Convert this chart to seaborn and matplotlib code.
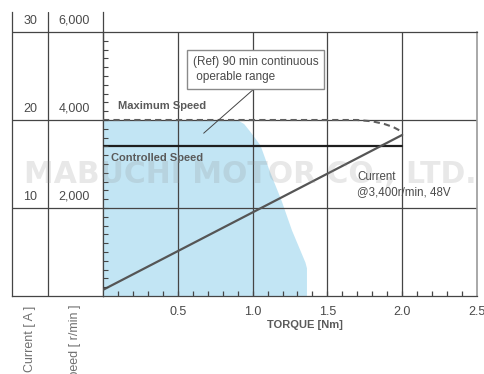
import numpy as np
import pandas as pd
import matplotlib
matplotlib.use("Agg")
import matplotlib.pyplot as plt
import seaborn as sns

# left scale labels
current_ticks = [10, 20, 30]
speed_ticks = [2000, 4000, 6000]
torque_ticks = [0.5, 1.0, 1.5, 2.0, 2.5]

# 90 min continuous operable range (torque Nm, speed r/min)
range_torque = [0.0, 0.90, 0.94, 0.98, 1.05, 1.11, 1.19, 1.26, 1.35, 1.36, 1.36]
range_speed = [4000, 4000, 3920, 3750, 3430, 2860, 2180, 1500, 770, 640, 0]

# maximum speed curve
max_torque = [0.0, 1.70, 1.80, 1.88, 1.94, 2.0]
max_speed = [4000, 4000, 3970, 3910, 3840, 3730]

# controlled speed
ctrl_torque = [0.0, 2.0]
ctrl_speed = [3400, 3400]

# current @3,400 r/min, 48V
cur_torque = [0.0, 2.0]
cur_amps = [0.7, 18.3]

SPEED_PER_AMP = speed_ticks[-1] / current_ticks[-1]

sns.set_theme(style="white")
plt.rcParams["font.family"] = ["Liberation Sans", "DejaVu Sans"]

W, H = 485, 374
fig = plt.figure(figsize=(W / 100, H / 100), dpi=100)
fig.patch.set_facecolor("white")

grid_c = "#454545"
text_c = "#4a4a4a"

# left label columns
axl = fig.add_axes([12 / W, (H - 296) / H, 91 / W, 284 / H])
axl.set_xlim(0, 1)
axl.set_ylim(0, 284 / 8.8)
for s in ["left", "right", "bottom"]:
    axl.spines[s].set_color(grid_c)
    axl.spines[s].set_linewidth(0.9)
axl.spines["top"].set_visible(False)
axl.set_xticks([])
axl.set_yticks([])
axl.set_facecolor("none")
axl.axvline(0.396, color=grid_c, lw=0.9)
for c, s in zip(current_ticks, speed_ticks):
    axl.axhline(c, color=grid_c, lw=0.9)
    axl.text(0.198, c + 1.3, f"{c}", ha="center", va="center", fontsize=9, color=text_c)
    axl.text(0.68, c + 1.3, f"{s:,}", ha="center", va="center", fontsize=9, color=text_c)

# main chart
ax = fig.add_axes([103 / W, (H - 296) / H, 374 / W, 264 / H])
ax.set_facecolor("none")

ax.fill_between(range_torque, np.array(range_speed) / SPEED_PER_AMP, 0,
                color="#c2e5f4", lw=0, zorder=1)

for t in torque_ticks[:-1]:
    ax.axvline(t, color=grid_c, lw=0.9, zorder=2)
for c in current_ticks[:-1]:
    ax.axhline(c, color=grid_c, lw=0.9, zorder=2)

sns.lineplot(x=max_torque, y=np.array(max_speed) / SPEED_PER_AMP, ax=ax,
             color="#5e5e5e", linewidth=1.5, linestyle=(0, (3, 2)), zorder=3)
sns.lineplot(x=ctrl_torque, y=np.array(ctrl_speed) / SPEED_PER_AMP, ax=ax,
             color="#1e1e1e", linewidth=1.6, zorder=4)
sns.lineplot(x=cur_torque, y=cur_amps, ax=ax,
             color="#555555", linewidth=1.6, zorder=4)

ax.set_xlim(0, 2.5)
ax.set_ylim(0, 30)

# small inward ticks along the left and bottom edges
x_minor = np.arange(1, 25) / 10
y_minor = np.arange(1, 30)
ax.vlines(x_minor, 0, 0.55, color=grid_c, lw=0.9, zorder=6)
ax.hlines(y_minor, 0, 0.034, color=grid_c, lw=0.8, zorder=6)

for s in ["left", "bottom", "top"]:
    ax.spines[s].set_color(grid_c)
    ax.spines[s].set_linewidth(0.9)
ax.spines["right"].set_color("#9a9a9a")
ax.spines["right"].set_linewidth(1.2)

ax.set_xticks(torque_ticks)
ax.set_xticklabels([f"{t:.1f}" for t in torque_ticks], fontsize=9, color=text_c)
ax.set_yticks([])
ax.tick_params(axis="x", which="major", length=0, pad=7)
ax.set_xlabel("")
ax.set_ylabel("")

# annotations
ax.text(0.10, 21.6, "Maximum Speed", fontsize=8, fontweight="bold",
        color="#5a5a5a", va="center", zorder=6)
ax.text(0.053, 15.7, "Controlled Speed", fontsize=8, fontweight="bold",
        color="#5a5a5a", va="center", zorder=6)
ax.text(1.70, 12.7, "Current\n@3,400r/min, 48V", fontsize=8.3,
        color="#4a4a4a", va="center", linespacing=1.3, zorder=6)
ax.text(0.60, 25.75, "(Ref) 90 min continuous\n operable range", fontsize=8.5,
        color="#4a4a4a", va="center", linespacing=1.3, zorder=6,
        bbox=dict(boxstyle="square,pad=0.5", fc="white", ec="#8a8a8a", lw=1))
ax.plot([1.007, 0.673], [23.5, 18.5], color="#444444", lw=0.7, zorder=5)

fig.text(305 / W, 1 - 325 / H, "TORQUE [Nm]", ha="center", va="center",
         fontsize=8, fontweight="bold", color="#5a5a5a")
fig.text(30 / W, 1 - 306 / H, "Current [ A ]", rotation=90, ha="center",
         va="top", fontsize=9, color="#707070")
fig.text(75 / W, 1 - 304 / H, "Speed [ r/min ]", rotation=90, ha="center",
         va="top", fontsize=9, color="#707070")

# watermark
fig.text(250 / W, 1 - 174 / H, "MABUCHI MOTOR CO., LTD.", ha="center",
         va="center", fontsize=21.5, fontweight="bold", family="DejaVu Sans",
         color="#8c8c8c", alpha=0.2)

fig.savefig("out.png", dpi=100)
